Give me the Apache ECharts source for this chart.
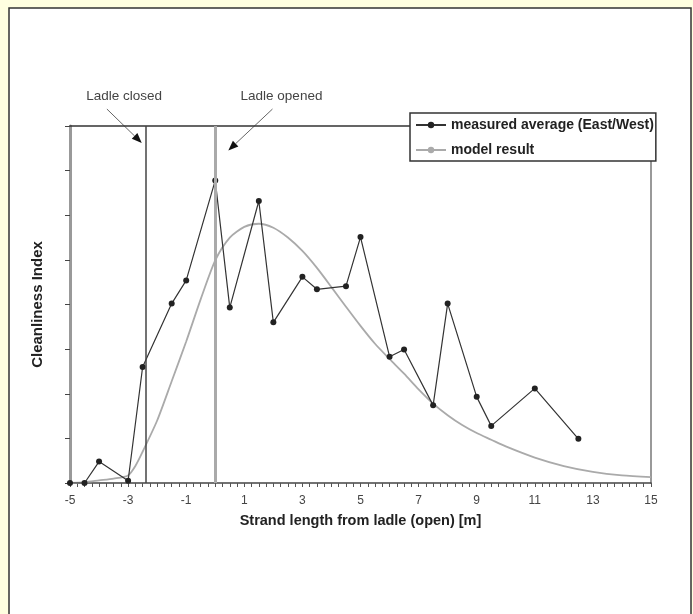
<!DOCTYPE html>
<html>
<head>
<meta charset="utf-8">
<script src="https://cdn.jsdelivr.net/npm/echarts@6/dist/echarts.min.js"></script>
<style>html,body{margin:0;padding:0;background:#ffffe0;}#c{width:693px;height:614px;}</style>
</head>
<body>
<div id="c"></div>
<script>
// ---- data ----
const measuredX = [-5, -4.5, -4, -3, -2.5, -1.5, -1, 0, 0.5, 1.5, 2, 3, 3.5, 4.5, 5, 6, 6.5, 7.5, 8, 9, 9.5, 11, 12.5];
const measuredY = [0, 0, 0.48, 0.05, 2.6, 4.02, 4.54, 6.78, 3.93, 6.32, 3.6, 4.62, 4.34, 4.41, 5.51, 2.83, 2.99, 1.74, 4.02, 1.93, 1.28, 2.12, 0.99];
const modelX = [-5, -4.5, -4, -3.5, -3, -2.75, -2.5, -2, -1.5, -1, -0.5, 0, 0.5, 1, 1.5, 2, 2.5, 3, 3.5, 4, 4.5, 5, 5.5, 6, 6.5, 7, 7.5, 8, 8.5, 9, 9.5, 10, 11, 12, 13, 14, 15];
const modelY = [0, 0.02, 0.06, 0.1, 0.17, 0.38, 0.7, 1.4, 2.28, 3.17, 4.12, 4.99, 5.5, 5.74, 5.81, 5.72, 5.5, 5.2, 4.82, 4.39, 3.95, 3.52, 3.12, 2.78, 2.45, 2.1, 1.78, 1.52, 1.3, 1.12, 0.97, 0.82, 0.57, 0.38, 0.25, 0.17, 0.13];
const seriesNames = ['measured average (East/West)', 'model result'];
const ladleX = [-2.4, 0];
const annotLabels = ['Ladle closed', 'Ladle opened'];
const annotTextPos = [[-3.14, 8.66], [2.28, 8.66]];
const arrowTail = [[-3.73, 8.38], [1.97, 8.38]];
const arrowHead = [[-2.53, 7.62], [0.45, 7.45]];
const xTitle = 'Strand length from ladle (open) [m]';
const yTitle = 'Cleanliness Index';

const FONT = '"Liberation Sans", Arial, sans-serif';
const chart = echarts.init(document.getElementById('c'), null, {renderer: 'canvas'});
const zip = (xs, ys) => xs.map((x, i) => [x, ys[i]]);

chart.setOption({
  animation: false,
  backgroundColor: '#ffffe0',
  grid: {left: 70, right: 42, top: 126, bottom: 131, containLabel: false},
  legend: {
    data: seriesNames,
    left: 410, top: 113, orient: 'vertical',
    itemWidth: 30, itemHeight: 8, itemGap: 11,
    padding: [5, 2, 4, 5],
    backgroundColor: '#fff', borderColor: '#333', borderWidth: 1.5,
    selectedMode: false,
    textStyle: {fontFamily: FONT, fontWeight: 'bold', fontSize: 14, color: '#222'}
  },
  xAxis: [{
    type: 'value', min: -5, max: 15, interval: 1,
    name: xTitle, nameLocation: 'middle', nameGap: 30,
    nameTextStyle: {fontFamily: FONT, fontWeight: 'bold', fontSize: 14.5, color: '#222'},
    axisLine: {onZero: false, lineStyle: {color: '#444', width: 1.5}},
    axisTick: {show: true, length: 4, lineStyle: {color: '#555'}},
    minorTick: {show: true, splitNumber: 4, length: 4, lineStyle: {color: '#555'}},
    axisLabel: {margin: 12, fontFamily: FONT, fontSize: 12, color: '#444',
      formatter: v => (Math.round(v) % 2 !== 0 ? String(v) : '')},
    splitLine: {show: false}
  }, {
    type: 'value', min: -5, max: 15, position: 'top',
    axisLine: {show: true, onZero: false, lineStyle: {color: '#333', width: 1.5}},
    axisTick: {show: false}, axisLabel: {show: false}, splitLine: {show: false}
  }],
  yAxis: [{
    type: 'value', min: 0, max: 8, interval: 1,
    name: yTitle, nameLocation: 'middle', nameGap: 25,
    nameTextStyle: {fontFamily: FONT, fontWeight: 'bold', fontSize: 15, color: '#222'},
    axisLine: {show: true, onZero: false, lineStyle: {color: '#999', width: 3}},
    axisTick: {show: true, length: 5, lineStyle: {color: '#444'}},
    axisLabel: {show: false},
    splitLine: {show: false}
  }, {
    type: 'value', min: 0, max: 8, position: 'right',
    axisLine: {show: true, onZero: false, lineStyle: {color: '#999', width: 2}},
    axisTick: {show: false}, axisLabel: {show: false}, splitLine: {show: false}
  }],
  series: [{
    name: seriesNames[0], type: 'line',
    data: zip(measuredX, measuredY),
    symbol: 'circle', symbolSize: 6, showSymbol: true,
    lineStyle: {color: '#333', width: 1.2},
    itemStyle: {color: '#222'},
    z: 3,
    markLine: {
      silent: true, symbol: 'none', label: {show: false},
      data: [
        {xAxis: ladleX[0], lineStyle: {color: '#444', width: 1.5, type: 'solid'}},
        {xAxis: ladleX[1], lineStyle: {color: '#aaa', width: 3, type: 'solid'}}
      ]
    }
  }, {
    name: seriesNames[1], type: 'line',
    data: zip(modelX, modelY),
    smooth: 0.25, showSymbol: false, symbol: 'none',
    lineStyle: {color: '#aaa', width: 1.8},
    itemStyle: {color: '#aaa'},
    z: 2
  }]
});

// annotations (frame, labels and arrows), positioned from data coordinates
const px = p => chart.convertToPixel({gridIndex: 0}, p);
const g = [{
  type: 'rect', z: -10, silent: true,
  shape: {x: 9, y: 8, width: 682, height: 640},
  style: {fill: '#fff', stroke: '#333', lineWidth: 1.5}
}];
annotLabels.forEach((t, i) => {
  const tp = px(annotTextPos[i]);
  g.push({type: 'text', x: tp[0], y: tp[1], silent: true,
    style: {text: t, fill: '#444', font: '13.5px ' + FONT, align: 'center', verticalAlign: 'middle'}});
  const a = px(arrowTail[i]), b = px(arrowHead[i]);
  const dx = b[0] - a[0], dy = b[1] - a[1], L = Math.hypot(dx, dy);
  const ux = dx / L, uy = dy / L, hl = 10, hw = 4;
  const bx = b[0] - ux * hl, by = b[1] - uy * hl;
  g.push({type: 'line', silent: true, shape: {x1: a[0], y1: a[1], x2: bx, y2: by},
    style: {stroke: '#666', lineWidth: 1}});
  g.push({type: 'polygon', silent: true,
    shape: {points: [[b[0], b[1]], [bx - uy * hw, by + ux * hw], [bx + uy * hw, by - ux * hw]]},
    style: {fill: '#111'}});
});
chart.setOption({graphic: g});
</script>
</body>
</html>
